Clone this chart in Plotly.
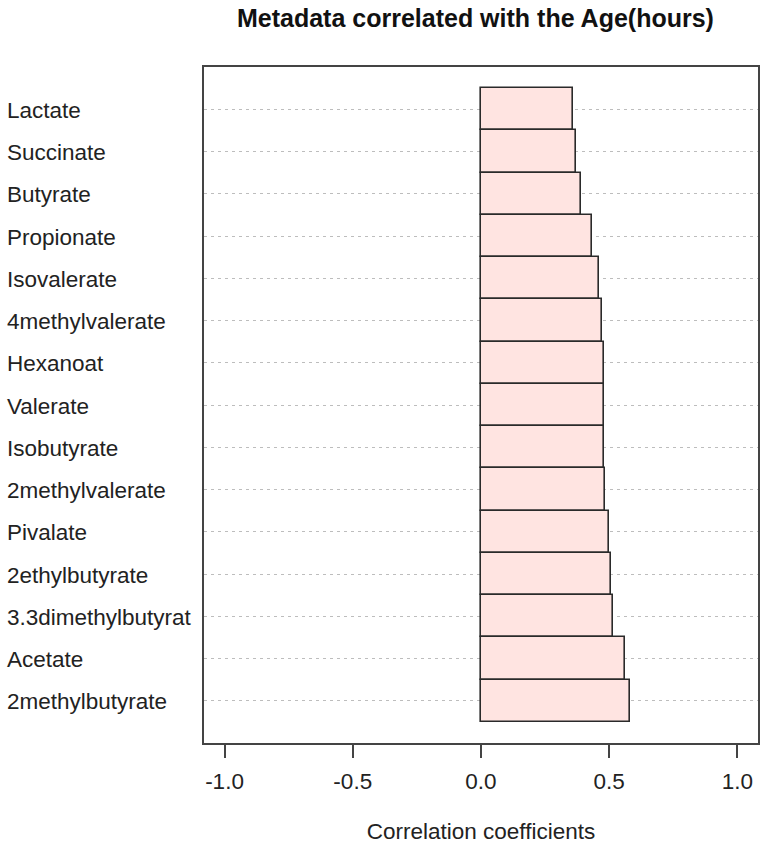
import plotly.graph_objects as go

# Metabolites, listed top to bottom
metabolites = [
    "Lactate", "Succinate", "Butyrate", "Propionate", "Isovalerate",
    "4methylvalerate", "Hexanoat", "Valerate", "Isobutyrate",
    "2methylvalerate", "Pivalate", "2ethylbutyrate", "3.3dimethylbutyrat",
    "Acetate", "2methylbutyrate",
]
# Correlation coefficient of each metabolite with age (hours)
correlations = [
    0.359, 0.370, 0.391, 0.431, 0.459,
    0.473, 0.478, 0.478, 0.478,
    0.484, 0.499, 0.506, 0.513,
    0.560, 0.582,
]
x_tick_values = [-1.0, -0.5, 0.0, 0.5, 1.0]
x_tick_labels = ["-1.0", "-0.5", "0.0", "0.5", "1.0"]

FONT = "Liberation Sans, Arial, Helvetica, sans-serif"
TEXT = "#222222"
FRAME = "#444444"

W, H = 760, 846
M_L, M_R, M_T, M_B = 204, 0, 67, 103
plot_w = W - M_L - M_R

fig = go.Figure()
fig.add_trace(go.Bar(
    x=correlations,
    y=metabolites,
    orientation="h",
    marker=dict(color="#FFE4E1", line=dict(color="#2a2a2a", width=1.6)),
    hoverinfo="x+y",
))

# Left-aligned category labels in the left margin
label_left_px = 4
for name in metabolites:
    fig.add_annotation(
        x=(label_left_px - M_L) / plot_w, xref="paper", xanchor="left",
        y=name, yref="y", yanchor="middle", yshift=-1,
        text=name, showarrow=False,
        font=dict(family=FONT, size=22.5, color=TEXT),
    )

fig.update_layout(
    width=W, height=H,
    margin=dict(l=M_L, r=M_R, t=M_T, b=M_B, pad=0),
    paper_bgcolor="white", plot_bgcolor="white",
    bargap=0,
    showlegend=False,
    font=dict(family=FONT, size=22.5, color=TEXT),
    title=dict(
        text="<b>Metadata correlated with the Age(hours)</b>",
        x=0.49, xref="paper", xanchor="center",
        y=1 - 18 / H, yref="container", yanchor="middle",
        font=dict(family=FONT, size=25, color="#111111"),
    ),
    xaxis=dict(
        range=[-1.08, 1.08],
        tickmode="array", tickvals=x_tick_values, ticktext=x_tick_labels,
        ticks="outside", ticklen=13, tickwidth=1.5, tickcolor=FRAME,
        ticklabelstandoff=4,
        showgrid=False, zeroline=False,
        showline=True, linecolor=FRAME, linewidth=1.5, mirror=True,
        tickfont=dict(family=FONT, size=22.5, color=TEXT),
        title=dict(text="Correlation coefficients", standoff=30,
                   font=dict(family=FONT, size=22.5, color=TEXT)),
    ),
    yaxis=dict(
        type="category",
        categoryorder="array", categoryarray=metabolites,
        range=[15, -1],
        showticklabels=False, ticks="",
        showgrid=True, gridcolor="#bdbdbd", gridwidth=1, griddash="3px,4px",
        zeroline=False,
        showline=True, linecolor=FRAME, linewidth=1.5, mirror=True,
    ),
)

fig.write_html("out.html")
